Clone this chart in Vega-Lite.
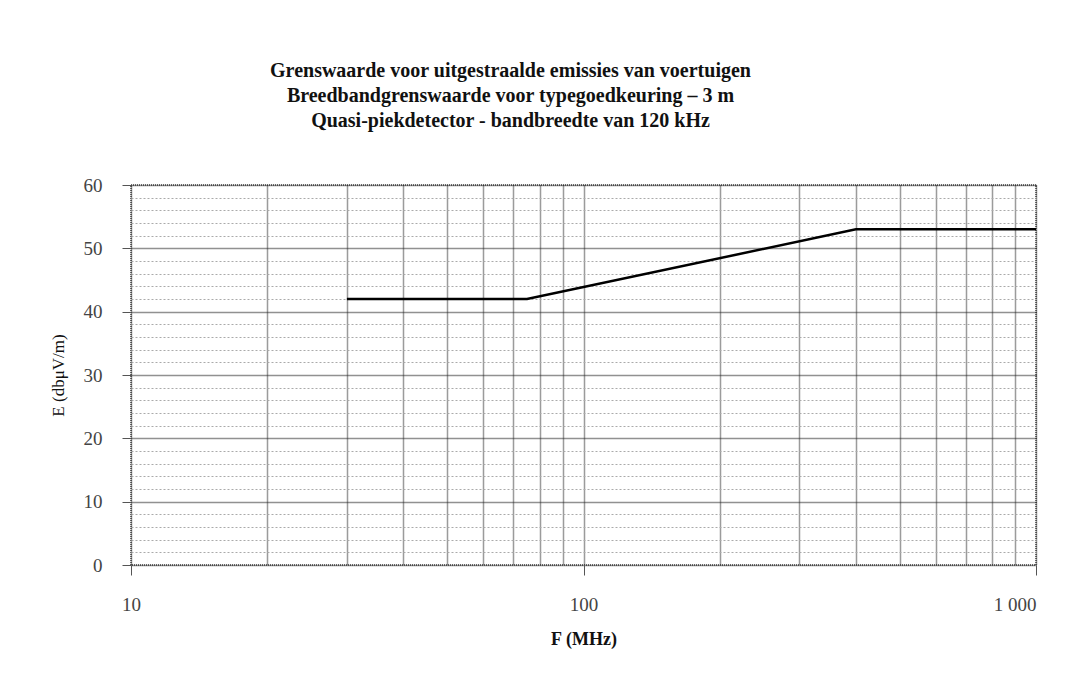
{
  "$schema": "https://vega.github.io/schema/vega-lite/v6.json",
  "width": 905,
  "height": 380,
  "autosize": {"type": "none"},
  "padding": {"left": 131, "top": 185, "right": 42, "bottom": 123},
  "background": "white",
  "config": {
    "view": {"stroke": "#444", "strokeDash": [1, 1], "strokeWidth": 1.5},
    "axis": {"labelFont": "Liberation Serif", "titleFont": "Liberation Serif", "labelColor": "#444", "titleColor": "#111"}
  },
  "title": {
    "text": ["Grenswaarde voor uitgestraalde emissies van voertuigen", "Breedbandgrenswaarde voor typegoedkeuring – 3 m", "Quasi-piekdetector - bandbreedte van 120 kHz"],
    "font": "Liberation Serif",
    "fontSize": 20,
    "fontWeight": "bold",
    "color": "#111",
    "lineHeight": 25,
    "anchor": "middle",
    "dx": -73,
    "offset": 45
  },
  "data": {
    "values": [
      {"f": 30, "e": 42},
      {"f": 75, "e": 42},
      {"f": 400, "e": 53},
      {"f": 1000, "e": 53}
    ]
  },
  "mark": {"type": "line", "color": "#000", "strokeWidth": 2.5},
  "encoding": {
    "x": {
      "field": "f",
      "type": "quantitative",
      "scale": {"type": "log", "domain": [10, 1000], "nice": false},
      "axis": {
        "title": "F (MHz)",
        "titleFontSize": 18,
        "titleFontWeight": "bold",
        "titlePadding": 16,
        "values": [10, 20, 30, 40, 50, 60, 70, 80, 90, 100, 200, 300, 400, 500, 600, 700, 800, 900, 1000],
        "labelExpr": "datum.value == 10 ? '10' : datum.value == 100 ? '100' : datum.value == 1000 ? '1 000' : ''",
        "labelFontSize": 19,
        "labelPadding": 20,
        "labelAlign": {"expr": "datum.value >= 1000 ? 'right' : 'center'"},
        "tickSize": 10,
        "tickColor": "#555",
        "tickOpacity": {"condition": {"test": "datum.value == 10 || datum.value == 100 || datum.value == 1000", "value": 1}, "value": 0},
        "domain": false,
        "grid": true,
        "gridColor": "#222",
        "gridDash": [1, 1],
        "gridWidth": 1.5,
        "gridOpacity": 0.9
      }
    },
    "y": {
      "field": "e",
      "type": "quantitative",
      "scale": {"domain": [0, 60], "nice": false},
      "axis": {
        "title": "E (dbμV/m)",
        "titleFontSize": 17,
        "titleFontWeight": "normal",
        "titlePadding": 16,
        "values": [0, 2, 4, 6, 8, 10, 12, 14, 16, 18, 20, 22, 24, 26, 28, 30, 32, 34, 36, 38, 40, 42, 44, 46, 48, 50, 52, 54, 56, 58, 60],
        "labelExpr": "datum.value % 10 == 0 ? datum.label : ''",
        "labelFontSize": 19,
        "labelPadding": 20,
        "tickSize": 9,
        "tickColor": "#555",
        "tickOpacity": {"condition": {"test": "datum.value % 10 == 0", "value": 1}, "value": 0},
        "domain": false,
        "grid": true,
        "gridColor": {"condition": {"test": "datum.value % 10 == 0", "value": "#222"}, "value": "#aaa"},
        "gridDash": {"condition": {"test": "datum.value % 10 == 0", "value": [1, 1]}, "value": [2, 2]},
        "gridWidth": {"condition": {"test": "datum.value % 10 == 0", "value": 1.5}, "value": 1}
      }
    }
  }
}
